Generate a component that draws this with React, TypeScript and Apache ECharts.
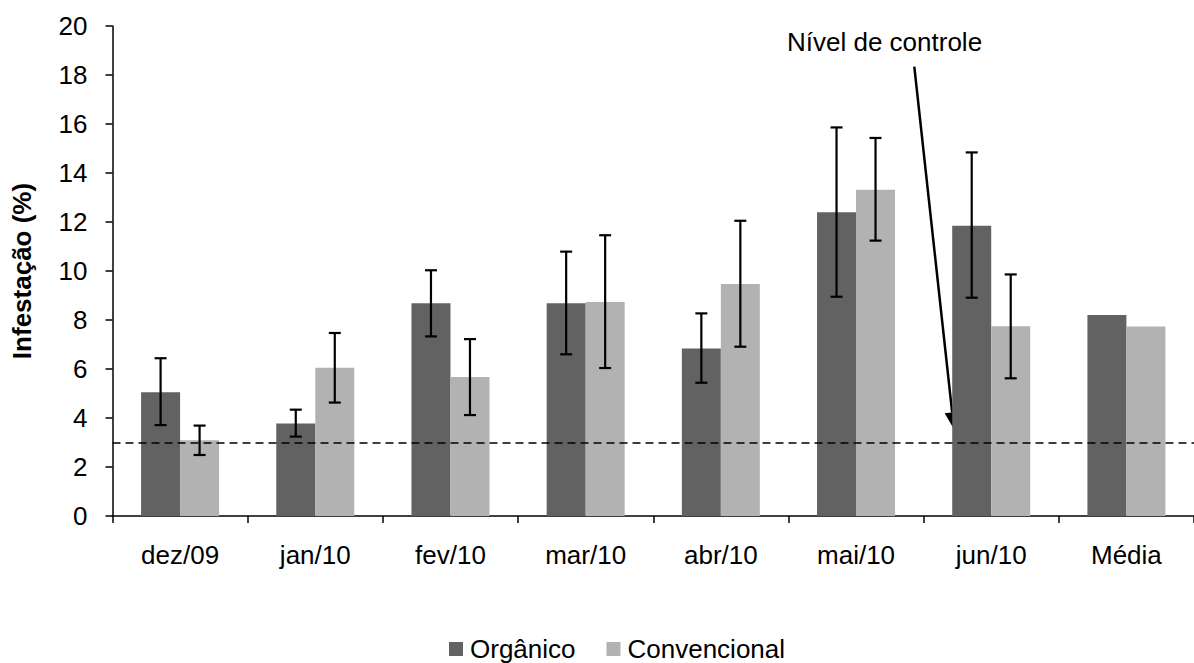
import React, { useEffect, useRef } from "react";
import * as echarts from "echarts";

const categories = ["dez/09", "jan/10", "fev/10", "mar/10", "abr/10", "mai/10", "jun/10", "Média"];
const organico = [5.05, 3.78, 8.68, 8.68, 6.84, 12.4, 11.85, 8.2];
const convencional = [3.09, 6.05, 5.67, 8.73, 9.47, 13.32, 7.74, 7.73];
const organicoLow = [3.71, 3.24, 7.33, 6.6, 5.44, 8.95, 8.91];
const organicoHigh = [6.44, 4.34, 10.03, 10.79, 8.27, 15.86, 14.84];
const convencionalLow = [2.49, 4.63, 4.12, 6.04, 6.91, 11.24, 5.62];
const convencionalHigh = [3.69, 7.47, 7.22, 11.46, 12.05, 15.43, 9.86];
const controlLevel = 3;
const yTicks = { min: 0, max: 20, interval: 2 };

const FONT = "'Liberation Sans', Arial, sans-serif";
const BAR_W = 39;

function errSeries(name: string, lows: number[], highs: number[], offset: number) {
  return {
    type: "custom",
    name,
    silent: true,
    z: 10,
    renderItem: (params: any, api: any) => {
      const idx = api.value(0);
      const lo = api.coord([idx, api.value(1)]);
      const hi = api.coord([idx, api.value(2)]);
      const x = lo[0] + offset;
      const cap = 6;
      const st = { stroke: "#000", lineWidth: 2.2 };
      return {
        type: "group",
        children: [
          { type: "line", shape: { x1: x, y1: hi[1], x2: x, y2: lo[1] }, style: st },
          { type: "line", shape: { x1: x - cap, y1: hi[1], x2: x + cap, y2: hi[1] }, style: st },
          { type: "line", shape: { x1: x - cap, y1: lo[1], x2: x + cap, y2: lo[1] }, style: st },
        ],
      };
    },
    data: lows.map((l, i) => [i, l, highs[i]]),
    encode: { x: 0, y: [1, 2] },
  };
}

export default function App() {
  const ref = useRef<HTMLDivElement>(null);
  useEffect(() => {
    document.body.style.margin = "0";
    if (!ref.current) return;
    const chart = echarts.init(ref.current, undefined, { renderer: "svg" });
    // arrow geometry (annotation)
    const tip = [954, 429.3];
    const start = [914.3, 66.7];
    const dx = tip[0] - start[0];
    const dy = tip[1] - start[1];
    const len = Math.sqrt(dx * dx + dy * dy);
    const ux = dx / len, uy = dy / len;
    const headL = 17, headW = 7.5;
    const base = [tip[0] - ux * headL, tip[1] - uy * headL];
    chart.setOption({
      animation: false,
      textStyle: { fontFamily: FONT },
      grid: { left: 112.5, right: -11.5, top: 26, bottom: 147, containLabel: false },
      legend: {
        data: ["Orgânico", "Convencional"],
        left: 444,
        top: 631,
        icon: "rect",
        itemWidth: 14,
        itemHeight: 14,
        itemGap: 31,
        textStyle: { fontSize: 26, color: "#000", fontFamily: FONT, padding: [0, 0, 0, 2] },
      },
      xAxis: {
        type: "category",
        data: categories,
        axisLine: { lineStyle: { color: "#000", width: 1.5 } },
        axisTick: { show: true, alignWithLabel: false, length: 7, lineStyle: { color: "#000", width: 1.5 } },
        axisLabel: { color: "#000", fontSize: 26, margin: 26, interval: 0, fontFamily: FONT },
        splitLine: { show: false },
      },
      yAxis: {
        type: "value",
        min: yTicks.min,
        max: yTicks.max,
        interval: yTicks.interval,
        name: "Infestação (%)",
        nameLocation: "middle",
        nameGap: 78,
        nameTextStyle: { color: "#000", fontSize: 26, fontWeight: "bold", fontFamily: FONT },
        axisLine: { show: true, lineStyle: { color: "#000", width: 1.5 } },
        axisTick: { show: true, length: 7, lineStyle: { color: "#000", width: 1.5 } },
        axisLabel: { color: "#000", fontSize: 26, margin: 25, fontFamily: FONT },
        splitLine: { show: false },
      },
      series: [
        {
          type: "bar",
          name: "Orgânico",
          data: organico,
          barWidth: BAR_W,
          barGap: "0%",
          itemStyle: { color: "#626262" },
          markLine: {
            silent: true,
            symbol: "none",
            label: { show: false },
            lineStyle: { color: "#000", type: [8, 5], width: 1.6 },
            data: [{ yAxis: controlLevel }],
          },
        },
        {
          type: "bar",
          name: "Convencional",
          data: convencional,
          barWidth: BAR_W,
          barGap: "0%",
          itemStyle: { color: "#b2b2b2" },
        },
        errSeries("errOrg", organicoLow, organicoHigh, -BAR_W / 2),
        errSeries("errConv", convencionalLow, convencionalHigh, BAR_W / 2),
      ],
      graphic: [
        {
          type: "text",
          left: 787,
          top: 29,
          style: { text: "Nível de controle", fontSize: 26, fill: "#000", fontFamily: FONT },
        },
        {
          type: "line",
          shape: { x1: start[0], y1: start[1], x2: base[0], y2: base[1] },
          style: { stroke: "#000", lineWidth: 2.5 },
        },
        {
          type: "polygon",
          shape: {
            points: [
              [tip[0], tip[1]],
              [base[0] + uy * headW, base[1] - ux * headW],
              [base[0] - uy * headW, base[1] + ux * headW],
            ],
          },
          style: { fill: "#000" },
        },
      ],
    });
    return () => chart.dispose();
  }, []);
  return <div ref={ref} style={{ width: 1194, height: 663 }} />;
}
